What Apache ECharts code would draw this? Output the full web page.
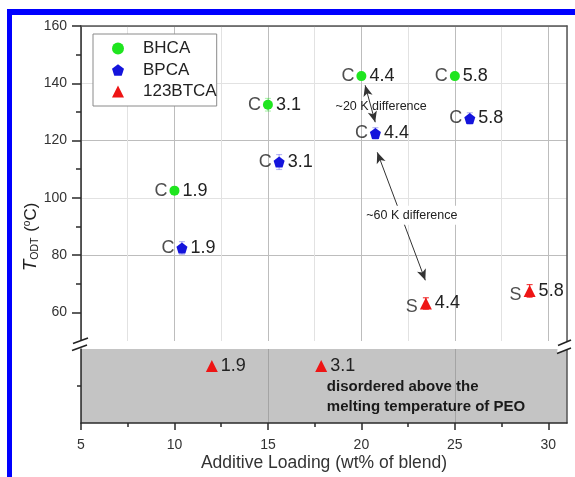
<!DOCTYPE html>
<html><head><meta charset="utf-8">
<script src="https://cdn.jsdelivr.net/npm/echarts@6/dist/echarts.min.js"></script>
<style>html,body{margin:0;padding:0;background:#fff}#c{width:575px;height:477px}</style>
</head><body><div id="c"></div>
<script>
// ---- data ----
const bhcaX = [10, 15, 20, 25];
const bhcaY = [102.5, 132.5, 142.5, 142.5];
const bhcaErr = [1.2, 2.2, 1.2, 1.2];
const bhcaLoad = ['1.9', '3.1', '4.4', '5.8'];
const bhcaPhase = ['C', 'C', 'C', 'C'];

const bpcaX = [10.4, 15.6, 20.75, 25.8];
const bpcaY = [82.5, 112.5, 122.5, 127.7];
const bpcaErr = [2.2, 2.6, 2.0, 2.0];
const bpcaLoad = ['1.9', '3.1', '4.4', '5.8'];
const bpcaPhase = ['C', 'C', 'C', 'C'];

const btcaX = [23.45, 29.0];
const btcaY = [63.1, 67.5];
const btcaErr = [2.0, 2.2];
const btcaLoad = ['4.4', '5.8'];
const btcaPhase = ['S', 'S'];

// disordered samples (lower, non-scaled panel)
const btcaDisX = [12.0, 17.85];
const btcaDisY = [7.7, 7.7];
const btcaDisLoad = ['1.9', '3.1'];

const xMajorTicks = [5, 10, 15, 20, 25, 30];
const xMinorTicks = [7.5, 12.5, 17.5, 22.5, 27.5];
const yMajorTicks = [60, 80, 100, 120, 140, 160];
const yMinorTicks = [70, 90, 110, 130, 150];

const FONT = 'Liberation Sans, Arial, Helvetica, sans-serif';
const GREEN = '#1fe51f', BLUE = '#1414dc', RED = '#ee1515';

const pentagon = 'path://M50,0 L97.6,34.5 L79.4,90.5 L20.6,90.5 L2.4,34.5 Z';

function pts(xs, ys) { return xs.map((x, i) => [x, ys[i]]); }

function markSeries(name, xs, ys, loads, symbol, size, color, xi, yi) {
  return {
    name: name, type: 'scatter', xAxisIndex: xi, yAxisIndex: yi,
    symbol: symbol, symbolSize: size, itemStyle: { color: color, opacity: 1 },
    data: pts(xs, ys), z: 5,
    label: {
      show: true, position: 'right', distance: 3,
      formatter: p => loads[p.dataIndex],
      fontFamily: FONT, fontSize: 18, color: '#222'
    },
    emphasis: { disabled: true }
  };
}
function prefixSeries(xs, ys, phases, size, xi, yi, off) {
  return {
    name: 'prefix', type: 'scatter', xAxisIndex: xi, yAxisIndex: yi,
    symbol: 'circle', symbolSize: size, itemStyle: { color: 'rgba(0,0,0,0)' },
    data: pts(xs, ys), silent: true, z: 4,
    label: {
      show: true, position: 'left', distance: 2, offset: off || [0, 0],
      formatter: p => phases[p.dataIndex],
      fontFamily: FONT, fontSize: 18, color: '#222'
    },
    emphasis: { disabled: true }
  };
}
function errorSeries(xs, ys, errs, color) {
  return {
    name: 'err', type: 'custom', xAxisIndex: 0, yAxisIndex: 0, silent: true, z: 3,
    data: xs.map((x, i) => [x, ys[i] - errs[i], ys[i] + errs[i]]),
    renderItem: function (params, api) {
      const lo = api.coord([api.value(0), api.value(1)]);
      const hi = api.coord([api.value(0), api.value(2)]);
      const w = 3;
      const st = { stroke: color, lineWidth: 1.2 };
      return { type: 'group', children: [
        { type: 'line', shape: { x1: lo[0], y1: lo[1], x2: hi[0], y2: hi[1] }, style: st },
        { type: 'line', shape: { x1: lo[0] - w, y1: lo[1], x2: lo[0] + w, y2: lo[1] }, style: st },
        { type: 'line', shape: { x1: hi[0] - w, y1: hi[1], x2: hi[0] + w, y2: hi[1] }, style: st }
      ] };
    }
  };
}

const chart = echarts.init(document.getElementById('c'), null, { renderer: 'canvas' });

const axisDark = { color: '#2a2a2a', width: 1.5 };
const frameGray = { color: '#555', width: 1.5 };

const option = {
  animation: false,
  backgroundColor: '#fff',
  textStyle: { fontFamily: FONT },
  grid: [
    { left: 81, right: 8, top: 26, bottom: 136, containLabel: false },
    { left: 81, right: 8, top: 349, bottom: 54, containLabel: false,
      show: true, backgroundColor: '#c4c4c4', borderWidth: 0 }
  ],
  legend: {
    data: ['BHCA', 'BPCA', '123BTCA'],
    orient: 'vertical', left: 93, top: 34,
    itemWidth: 12, itemHeight: 12, itemGap: 4.5,
    padding: [6, 0, 6, 19],
    borderColor: '#8a8a8a', borderWidth: 1, backgroundColor: '#fff',
    textStyle: { fontFamily: FONT, fontSize: 17, color: '#222', padding: [0, 0, 0, 14] },
    selectedMode: false
  },
  xAxis: [
    { gridIndex: 0, type: 'value', min: 5, max: 31, interval: 2.5, position: 'top',
      axisLine: { show: true, onZero: false, lineStyle: frameGray },
      axisTick: { show: false }, axisLabel: { show: false },
      splitLine: { show: true, lineStyle: { color: ['#bdbdbd', '#e2e2e2'], width: 1 } } },
    { gridIndex: 1, type: 'value', min: 5, max: 31, interval: 2.5, position: 'bottom',
      axisLine: { show: true, onZero: false, lineStyle: axisDark },
      axisTick: { show: true, customValues: xMajorTicks, length: 7, lineStyle: axisDark },
      axisLabel: { show: true, customValues: xMajorTicks, fontFamily: FONT, fontSize: 14, color: '#333', margin: 15 },
      splitLine: { show: true, lineStyle: { color: ['#a4a4a4', 'rgba(0,0,0,0)'], width: 1 } },
      name: 'Additive Loading (wt% of blend)', nameLocation: 'middle', nameGap: 31,
      nameTextStyle: { fontFamily: FONT, fontSize: 17.5, color: '#333' } },
    { gridIndex: 1, type: 'value', min: 5, max: 31, position: 'bottom',
      axisLine: { show: false },
      axisTick: { show: true, customValues: xMinorTicks, length: 4, lineStyle: axisDark },
      axisLabel: { show: false }, splitLine: { show: false } }
  ],
  yAxis: [
    { gridIndex: 0, type: 'value', min: 50, max: 160, interval: 10, position: 'left',
      axisLine: { show: true, onZero: false, lineStyle: axisDark },
      axisTick: { show: true, customValues: yMajorTicks, length: 9, lineStyle: axisDark },
      axisLabel: { show: true, customValues: yMajorTicks, fontFamily: FONT, fontSize: 14, color: '#333', margin: 14 },
      splitLine: { show: true, showMinLine: false, lineStyle: { color: ['#bdbdbd', '#e2e2e2'], width: 1 } } },
    { gridIndex: 0, type: 'value', min: 50, max: 160, position: 'right',
      axisLine: { show: true, onZero: false, lineStyle: frameGray },
      axisTick: { show: false }, axisLabel: { show: false }, splitLine: { show: false } },
    { gridIndex: 0, type: 'value', min: 50, max: 160, position: 'left',
      axisLine: { show: false },
      axisTick: { show: true, customValues: yMinorTicks, length: 5, lineStyle: axisDark },
      axisLabel: { show: false }, splitLine: { show: false } },
    { gridIndex: 1, type: 'value', min: 0, max: 10, position: 'left',
      axisLine: { show: true, onZero: false, lineStyle: axisDark },
      axisTick: { show: true, customValues: [5], length: 4, lineStyle: axisDark },
      axisLabel: { show: false }, splitLine: { show: false } },
    { gridIndex: 1, type: 'value', min: 0, max: 10, position: 'right',
      axisLine: { show: true, onZero: false, lineStyle: frameGray },
      axisTick: { show: false }, axisLabel: { show: false }, splitLine: { show: false } }
  ],
  series: [
    errorSeries(bhcaX, bhcaY, bhcaErr, 'rgba(31,229,31,0.35)'),
    errorSeries(bpcaX, bpcaY, bpcaErr, 'rgba(20,20,220,0.3)'),
    errorSeries(btcaX, btcaY, btcaErr, 'rgba(238,21,21,0.8)'),
    markSeries('BHCA', bhcaX, bhcaY, bhcaLoad, 'circle', 10, GREEN, 0, 0),
    prefixSeries(bhcaX, bhcaY, bhcaPhase, 10, 0, 0),
    Object.assign(markSeries('BPCA', bpcaX, bpcaY, bpcaLoad, pentagon, 11, BLUE, 0, 0), {
      markLine: {
        silent: true, symbol: ['arrow', 'arrow'], symbolSize: [7, 11],
        label: { show: false },
        lineStyle: { color: '#333', width: 1, type: 'solid' },
        data: [
          [{ coord: [20.2, 139.3] }, { coord: [20.74, 126.4] }],
          [{ coord: [20.85, 115.9] }, { coord: [23.42, 71.2] }]
        ]
      }
    }),
    prefixSeries(bpcaX, bpcaY, bpcaPhase, 11, 0, 0),
    markSeries('123BTCA', btcaX, btcaY, btcaLoad, 'triangle', 12, RED, 0, 0),
    prefixSeries(btcaX, btcaY, btcaPhase, 12, 0, 0, [0, 4]),
    markSeries('123BTCA', btcaDisX, btcaDisY, btcaDisLoad, 'triangle', 12, RED, 1, 3)
  ]
};
chart.setOption(option);

// ---- annotations placed in data space through the axes ----
const p0 = v => chart.convertToPixel({ xAxisIndex: 0, yAxisIndex: 0 }, v);
const p1 = v => chart.convertToPixel({ xAxisIndex: 1, yAxisIndex: 3 }, v);
const a20 = p0([21.06, 132]);
const a60 = p0([22.7, 93.9]);
const dis = p1([18.15, 3.55]);

chart.setOption({
  graphic: [
    // blue page frame
    { type: 'rect', shape: { x: 7, y: 9, width: 5, height: 468 }, style: { fill: '#0000ff' }, z: 100 },
    { type: 'rect', shape: { x: 7, y: 9, width: 568, height: 6 }, style: { fill: '#0000ff' }, z: 100 },
    // annotation texts
    { type: 'text', x: a20[0], y: a20[1], z: 50,
      style: { text: '~20 K difference', fontFamily: FONT, fontSize: 12.5, fill: '#222', align: 'center', verticalAlign: 'middle' } },
    { type: 'text', x: a60[0], y: a60[1], z: 50,
      style: { text: '~60 K difference', fontFamily: FONT, fontSize: 12.5, fill: '#222', align: 'center', verticalAlign: 'middle',
               backgroundColor: '#fff', padding: [3, 2] } },
    { type: 'text', x: dis[0], y: dis[1], z: 50,
      style: { text: 'disordered above the\nmelting temperature of PEO', fontFamily: FONT, fontSize: 15, fontWeight: 'bold',
               fill: '#1a1a1a', align: 'left', verticalAlign: 'middle', lineHeight: 20 } },
    // y axis title
    { type: 'text', x: 31, y: 237, rotation: Math.PI / 2, z: 50,
      style: {
        text: '{t|T}{s|ODT}{n| (}{d|o}{n|C)}', align: 'center', verticalAlign: 'middle',
        rich: {
          t: { fontFamily: FONT, fontSize: 19, fontStyle: 'italic', fill: '#222' },
          s: { fontFamily: FONT, fontSize: 10.5, fill: '#222', padding: [8, 1, 0, 0] },
          n: { fontFamily: FONT, fontSize: 17, fill: '#222' },
          d: { fontFamily: FONT, fontSize: 10, fill: '#222', padding: [0, 0, 8, 0] }
        }
      } },
    // axis-break marks
    { type: 'polygon', z: 60, shape: { points: [[73, 343], [88, 338], [88, 345], [73, 350]] }, style: { fill: '#fff' } },
    { type: 'line', z: 61, shape: { x1: 73, y1: 343.5, x2: 88, y2: 338 }, style: { stroke: '#222', lineWidth: 1.5 } },
    { type: 'line', z: 61, shape: { x1: 72, y1: 350.5, x2: 87, y2: 345 }, style: { stroke: '#222', lineWidth: 1.5 } },
    { type: 'polygon', z: 60, shape: { points: [[558, 345.5], [571, 340], [571, 348], [557, 353.5]] }, style: { fill: '#fff' } },
    { type: 'line', z: 61, shape: { x1: 558, y1: 345.5, x2: 571, y2: 340 }, style: { stroke: '#222', lineWidth: 1.5 } },
    { type: 'line', z: 61, shape: { x1: 557, y1: 353.5, x2: 571, y2: 348 }, style: { stroke: '#222', lineWidth: 1.5 } }
  ]
});
</script></body></html>
